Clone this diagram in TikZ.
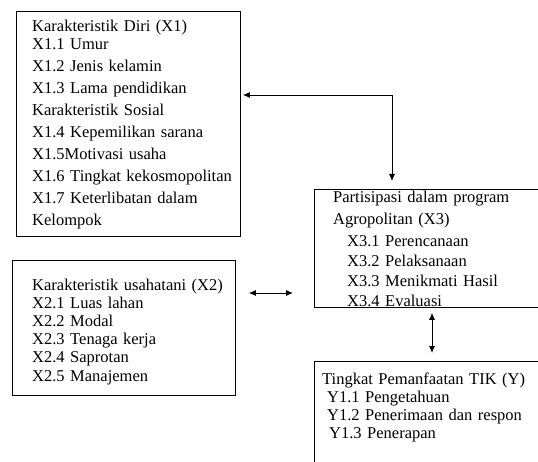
\documentclass[tikz,border=0pt]{standalone}
\usepackage{fontspec}
\setmainfont{Liberation Serif}
\usetikzlibrary{arrows.meta}
\usetikzlibrary{positioning}
\tikzset{kotak/.style = {draw, rectangle, line width = 0.8, anchor = north west, inner sep = 0}}
\tikzset{isi/.style = {anchor = base west, align = left, inner sep = 0, text width = 215bp}}
\tikzset{dua/.style = {line width = 0.9, {Latex[length = 7bp, width = 6bp]}-{Latex[length = 7bp, width = 6bp]}}}

\begin{document}
\begin{tikzpicture}[x = 1bp, y = -1bp]
      \useasboundingbox (0, 0) rectangle (538, 462);
      % kotak
      \node [kotak, minimum width = 224bp, minimum height = 225bp] (x1) at (16, 11) {};
      \node [kotak, minimum width = 223bp, minimum height = 135bp] (x2) at (12, 260) {};
      \node [kotak, minimum width = 240bp, minimum height = 118bp] (x3) at (314, 189) {};
      \node [kotak, minimum width = 240bp, minimum height = 120bp] (tik) at (314, 361) {};
      % isi
      \node [isi, font = \fontsize{16.5bp}{22bp}\selectfont] (x1-isi) at (32, 31.5) {Karakteristik Diri (X1)\\[-4.2bp]
        X1.1 Umur\\ X1.2 Jenis kelamin\\ X1.3 Lama pendidikan\\ Karakteristik Sosial\\
        X1.4 Kepemilikan sarana\\ X1.5Motivasi usaha\\ X1.6 Tingkat kekosmopolitan\\
        X1.7 Keterlibatan dalam\\ Kelompok};
      \node [isi, font = \fontsize{16.5bp}{18.2bp}\selectfont] (x2-isi) at (32, 290) {Karakteristik usahatani (X2)\\
        X2.1 Luas lahan\\ X2.2 Modal\\ X2.3 Tenaga kerja\\ X2.4 Saprotan\\ X2.5 Manajemen};
      \node [isi, font = \fontsize{16.5bp}{19.7bp}\selectfont] (x3-isi) at (333, 203) {Partisipasi dalam program\\[2.3bp]
        Agropolitan (X3)\\[2.3bp] \hspace*{14bp}X3.1 Perencanaan\\ \hspace*{14bp}X3.2 Pelaksanaan\\
        \hspace*{14bp}X3.3 Menikmati Hasil\\ \hspace*{14bp}X3.4 Evaluasi};
      \node [isi, font = \fontsize{16.5bp}{18bp}\selectfont] (tik-isi) at (322, 384) {Tingkat Pemanfaatan TIK (Y)\\
        \hspace*{5bp}Y1.1 Pengetahuan\\ \hspace*{5bp}Y1.2 Penerimaan dan respon\\ \hspace*{7bp}Y1.3 Penerapan};
      % panah
      \coordinate (siku) at (392, 95);
      \draw [dua, shorten <= 2bp, shorten >= 8bp] (x1.east |- siku) -- (siku) -- (x3.north -| siku);
      \draw [dua, shorten <= 13bp, shorten >= 21bp] (x2.east |- 0, 293) -- (x3.west |- 0, 293);
      \draw [dua, shorten <= 5bp, shorten >= 8bp] (x3.south -| 432, 0) -- (tik.north -| 432, 0);
    \end{tikzpicture}
\end{document}
